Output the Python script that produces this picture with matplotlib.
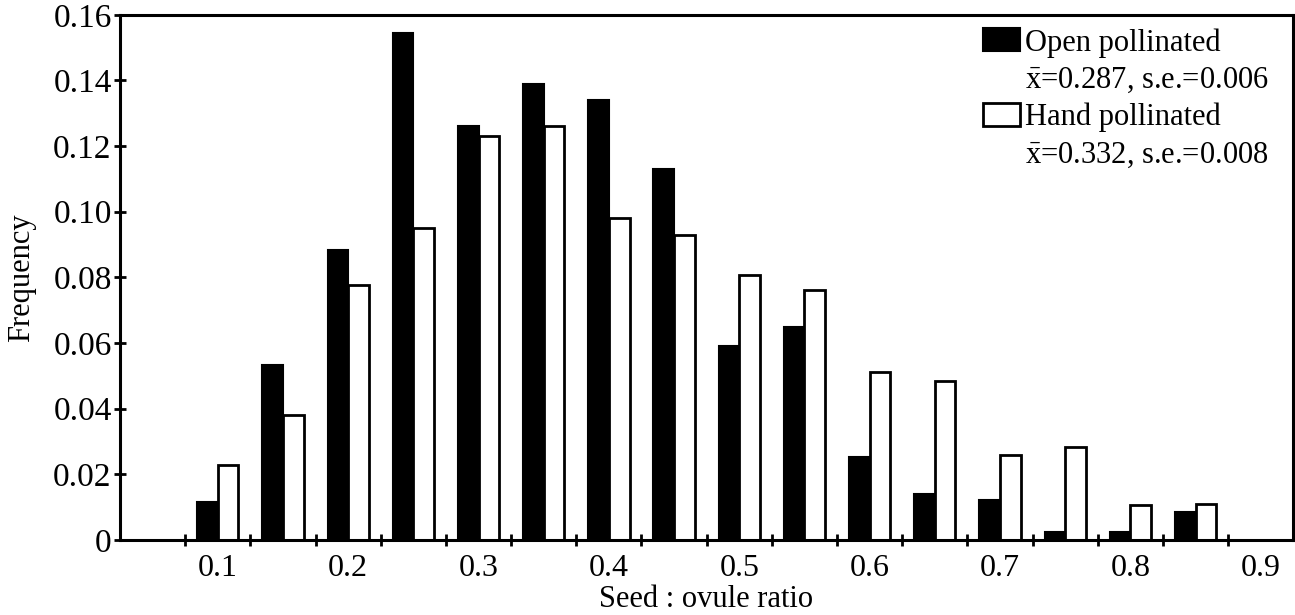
import numpy as np
import matplotlib
matplotlib.use("Agg")
from matplotlib import pyplot as plt
from matplotlib.patches import Patch

# seed:ovule ratio bin centres and frequencies for each treatment
bin_centres = [0.10, 0.15, 0.20, 0.25, 0.30, 0.35, 0.40, 0.45,
               0.50, 0.55, 0.60, 0.65, 0.70, 0.75, 0.80, 0.85]
open_freq = [0.0116, 0.0533, 0.0884, 0.1545, 0.126, 0.139, 0.134, 0.113,
             0.059, 0.065, 0.0253, 0.014, 0.0122, 0.0024, 0.0024, 0.0085]
hand_freq = [0.0229, 0.0381, 0.0777, 0.0951, 0.123, 0.126, 0.098, 0.093,
             0.0808, 0.076, 0.0512, 0.0485, 0.026, 0.0283, 0.0107, 0.011]
xtick_labels = ["0.1", "0.2", "0.3", "0.4", "0.5", "0.6", "0.7", "0.8", "0.9"]
ytick_labels = ["0", "0.02", "0.04", "0.06", "0.08", "0.10", "0.12", "0.14", "0.16"]
legend_lines = ["Open pollinated", r"$\mathrm{\bar{x}}$=0.287, s.e.=0.006",
                "Hand pollinated", r"$\mathrm{\bar{x}}$=0.332, s.e.=0.008"]

plt.rcParams['font.family'] = ['Liberation Serif', 'DejaVu Serif']
plt.rcParams['mathtext.fontset'] = 'custom'
plt.rcParams['mathtext.rm'] = 'Liberation Serif'

fig = plt.figure(figsize=(12.95, 6.15), dpi=100)
ax = fig.add_axes([0.0927, 0.122, 0.906, 0.854])

x = np.array(bin_centres)
w = 0.0158
ax.bar(x - w / 2, open_freq, width=w, color='black', edgecolor='black', linewidth=1.5)
ax.bar(x + w / 2, hand_freq, width=w, color='white', edgecolor='black', linewidth=2)

ax.set_xlim(0.025, 0.925)
ax.set_ylim(0, 0.16)

# tick marks sit on the bin edges, labels at every 0.1
ax.set_xticks(np.arange(0.075, 0.9, 0.05))
ax.set_xticklabels([])
ax.set_xticks([float(t) for t in xtick_labels], minor=True)
ax.set_xticklabels(xtick_labels, minor=True)
ax.tick_params(axis='x', which='major', direction='inout', length=8, width=2)
ax.tick_params(axis='x', which='minor', length=0, pad=10, labelsize=23)

ax.set_yticks([float(t) for t in ytick_labels])
ax.set_yticklabels(ytick_labels)
ax.tick_params(axis='y', direction='inout', length=8, width=2, pad=2, labelsize=24)

for s in ax.spines.values():
    s.set_linewidth(2.2)

ax.set_ylabel("Frequency", fontsize=22, labelpad=12)
fig.text(0.5455, 8 / 615, "Seed : ovule ratio", fontsize=22,
         ha='center', va='baseline')

# one legend row per text line so each patch sits level with its heading
blank = Patch(facecolor='none', edgecolor='none')
handles = [Patch(facecolor='black', edgecolor='black', linewidth=1.5), blank,
           Patch(facecolor='white', edgecolor='black', linewidth=2), blank]
fig.legend(handles, legend_lines, loc='upper left',
           bbox_to_anchor=(983 / 1295, 1 - 28 / 615), frameon=False,
           fontsize=22, handlelength=1.2, handleheight=0.78, handletextpad=0.18,
           labelspacing=0.26, borderpad=0, borderaxespad=0)

fig.savefig("out.png", dpi=100)
